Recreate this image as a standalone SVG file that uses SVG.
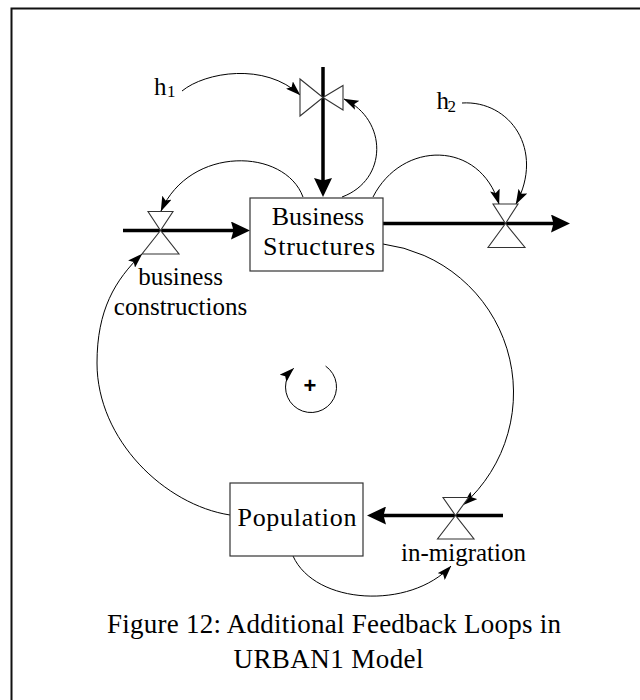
<svg xmlns="http://www.w3.org/2000/svg" width="640" height="700" viewBox="0 0 640 700">
<style>
  .lbl { font-family: "Liberation Serif", "Times New Roman", serif; font-size: 25px; fill: #000; }
  .big { font-size: 26px; }
  .cap { font-size: 27px; }
  .sub { font-family: "Liberation Serif", "Times New Roman", serif; font-size: 17px; fill: #000; }
  .box { fill: #fff; stroke: #333; stroke-width: 1.2; }
  .valve { fill: #fff; stroke: #333; stroke-width: 1.1; stroke-linejoin: miter; }
  .flow { fill: none; stroke: #000; stroke-width: 3.5; marker-end: url(#flowhead); }
  .link { fill: none; stroke: #000; stroke-width: 1; marker-end: url(#arrow); }
  .plus { font-family: "Liberation Sans", Arial, sans-serif; font-size: 22px; font-weight: bold; fill: #000; }
</style>
<defs>
  <marker id="flowhead" viewBox="0 0 19 18" refX="9" refY="9" markerWidth="19" markerHeight="18" markerUnits="userSpaceOnUse" orient="auto">
    <path d="M0,0 L19,9 L0,18 L2.5,9 Z" fill="#000"/>
  </marker>
  <marker id="arrow" viewBox="0 0 15 10" refX="14.5" refY="5" markerWidth="15" markerHeight="10" markerUnits="userSpaceOnUse" orient="auto">
    <path d="M0,0 L15,5 L0,10 L3,5 Z" fill="#000"/>
  </marker>
</defs>
<rect x="0" y="0" width="640" height="700" fill="#fff"/>
<path d="M11.5,700 V8.5 H640" fill="none" stroke="#111" stroke-width="2"/>

<g id="connectors">
  <!-- flows -->
  <line class="flow" x1="123" y1="230.5" x2="240" y2="230.5"/>
  <line class="flow" x1="323" y1="67" x2="323" y2="187"/>
  <line class="flow" x1="383" y1="223.5" x2="560" y2="223.5"/>
  <line class="flow" x1="503" y1="515.5" x2="377" y2="515.5"/>
  <!-- information links -->
  <path class="link" d="M182,91 C205,72 265,62 300,95"/>
  <path class="link" d="M342,197 C388,180 388,120 344,99"/>
  <path class="link" d="M303,197 C285,148 190,145 161,211"/>
  <path class="link" d="M373,197 C402,140 480,140 499,204"/>
  <path class="link" d="M462,103 C510,100 545,150 516,204"/>
  <path class="link" d="M383,244 A150 150 0 0 1 463,505"/>
  <path class="link" d="M293,556 C315,605 410,610 451,566"/>
  <path class="link" d="M230,515 C165,505 97,440 97,363 C97,310 115,280 142,254"/>
</g>

<g id="business_structures">
  <rect class="box" x="250" y="198" width="133" height="73"/>
  <text class="lbl big" x="318" y="225" text-anchor="middle">Business</text>
  <text class="lbl big" x="319" y="255" text-anchor="middle" textLength="112">Structures</text>
</g>

<g id="population">
  <rect class="box" x="230" y="483" width="133" height="73"/>
  <text class="lbl big" x="297" y="526" text-anchor="middle" textLength="119">Population</text>
</g>

<g id="valve_business_constructions">
  <polygon class="valve" points="148,211.5 173,211.5 160.5,230.5"/>
  <polygon class="valve" points="160.5,230.5 142,254 179,254"/>
  <text class="lbl" x="180.5" y="285" text-anchor="middle">business</text>
  <text class="lbl" x="180.5" y="315" text-anchor="middle">constructions</text>
</g>

<g id="valve_top">
  <polygon class="valve" points="300,79 300,116 323,97.5"/>
  <polygon class="valve" points="323,97.5 343,85.5 343,110"/>
</g>

<g id="valve_out">
  <polygon class="valve" points="493,204 518,204 505.5,223.5"/>
  <polygon class="valve" points="505.5,223.5 488,247.5 525,247.5"/>
</g>

<g id="valve_in_migration">
  <polygon class="valve" points="443,497.5 468.5,497.5 455.5,515.5"/>
  <polygon class="valve" points="455.5,515.5 437.5,539 474,539"/>
  <text class="lbl" x="463.5" y="561" text-anchor="middle">in-migration</text>
</g>

<g id="h1">
  <text class="lbl" x="154" y="94.5">h</text>
  <text class="sub" x="167" y="97">1</text>
</g>

<g id="h2">
  <text class="lbl" x="436.5" y="108.5">h</text>
  <text class="sub" x="447.5" y="111.5">2</text>
</g>

<g id="loop">
  <path class="link" d="M325.6,366.1 A25.5 25.5 0 1 1 293.6,368.4"/>
  <text class="plus" x="310" y="393" text-anchor="middle">+</text>
</g>

<g id="caption">
  <text class="lbl cap" x="334" y="633" text-anchor="middle" textLength="454">Figure 12: Additional Feedback Loops in</text>
  <text class="lbl cap" x="328.5" y="668" text-anchor="middle" textLength="190">URBAN1 Model</text>
</g>
</svg>
